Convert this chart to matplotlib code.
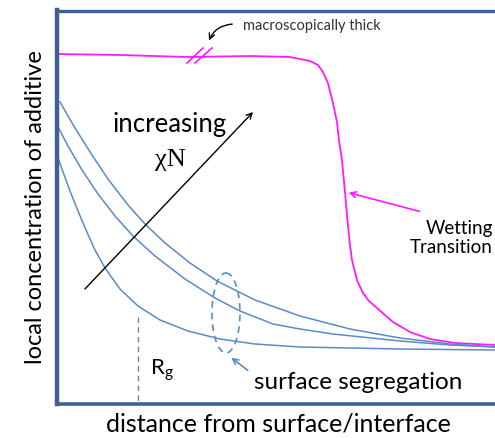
import matplotlib.pyplot as plt
from matplotlib.patches import Ellipse

# schematic: coordinates (pixel-like units)
wet_x = [57, 120, 187, 250, 290, 310, 318, 323, 328, 333, 337, 339, 342, 345, 347, 349,
         350, 352, 357, 363, 369, 377, 393, 410, 430, 455, 495]
wet_y = [54, 55, 57, 56, 57, 61, 65, 72, 83, 103, 122, 140, 160, 192, 215, 235,
         245, 260, 280, 293, 301, 308, 322, 332, 339, 343, 345]

c1_x = [60, 75, 92, 108, 128, 145, 165, 190, 217, 255, 300, 350, 400, 450, 495]
c1_y = [102, 128, 155, 179, 205, 224, 243, 263, 281, 300, 316, 329, 338, 344, 347]
c2_x = [57, 68, 82, 98, 115, 133, 155, 185, 215, 240, 273, 300, 333, 400, 450, 495]
c2_y = [125, 146, 170, 194, 216, 236, 256, 279, 298, 311, 324, 329, 334, 341, 345, 347]
c3_x = [57, 63, 70, 78, 86, 95, 105, 120, 138, 160, 188, 220, 255, 300, 400, 495]
c3_y = [155, 172, 191, 211, 230, 250, 268, 289, 306, 320, 331, 339, 344, 347, 349, 350]

frame = "#3f5f95"
blue = "#5b8ac8"
mag = "#ff1aff"
font = "Lato"

fig = plt.figure(figsize=(4.95, 4.38), dpi=100)
ax = fig.add_axes([57 / 495, 1 - 404 / 438, 1 - 57 / 495 + 0.01, (404 - 10.5) / 438])
ax.set_xlim(57, 500)
ax.set_ylim(404, 10.5)
ax.set_xticks([])
ax.set_yticks([])
ax.spines["right"].set_visible(False)
ax.spines["left"].set_linewidth(3.2)
ax.spines["bottom"].set_linewidth(2.6)
ax.spines["top"].set_linewidth(2.4)
for s in ax.spines.values():
    s.set_color(frame)

ax.plot(wet_x, wet_y, color=mag, lw=1.3, solid_joinstyle="round")
for cx, cy in [(c1_x, c1_y), (c2_x, c2_y), (c3_x, c3_y)]:
    ax.plot(cx, cy, color=blue, lw=1.1, solid_joinstyle="round")

# break marks
ax.plot([187, 203], [63, 48], color=mag, lw=1.2)
ax.plot([195, 212], [63, 48], color=mag, lw=1.2)
ax.annotate("", xy=(208, 43), xytext=(235, 24),
            arrowprops=dict(arrowstyle="->", color="black", lw=1,
                            connectionstyle="arc3,rad=0.35"))
ax.text(243, 26, "macroscopically thick", fontsize=10.5, family=font,
        color="#333333", va="center")

# increasing chi N arrow
ax.annotate("", xy=(255, 110), xytext=(83, 291),
            arrowprops=dict(arrowstyle="->", color="black", lw=1))
ax.text(170, 125, "increasing", fontsize=18.5, family=font, ha="center", va="center")
ax.text(170, 160, "χN", fontsize=19, family="Liberation Serif", ha="center", va="center")

# Rg
ax.plot([138, 138], [317, 404], color="gray", lw=1, ls=(0, (4, 3)))
ax.text(150, 370, r"R$_\mathregular{g}$", fontsize=16, family=font, va="center")

# surface segregation
ax.add_patch(Ellipse((226, 313), 28, 80, fill=False, ec=blue, lw=1.2, ls=(0, (4, 3))))
ax.annotate("", xy=(229, 356), xytext=(250, 372),
            arrowprops=dict(arrowstyle="->", color=blue, lw=1.2))
ax.text(254, 383, "surface segregation", fontsize=17.5, family=font, va="center")

# wetting transition
ax.annotate("", xy=(346, 192), xytext=(422, 212),
            arrowprops=dict(arrowstyle="->", color=mag, lw=1.2))
ax.text(493, 238, "Wetting\nTransition", fontsize=13.5, family=font, ha="right",
        va="center", linespacing=1.15)

ax.set_xlabel("distance from surface/interface", fontsize=18, family=font, labelpad=6)
ax.set_ylabel("local concentration of additive", fontsize=17, family=font, labelpad=8)

fig.savefig("out.png", dpi=100)
